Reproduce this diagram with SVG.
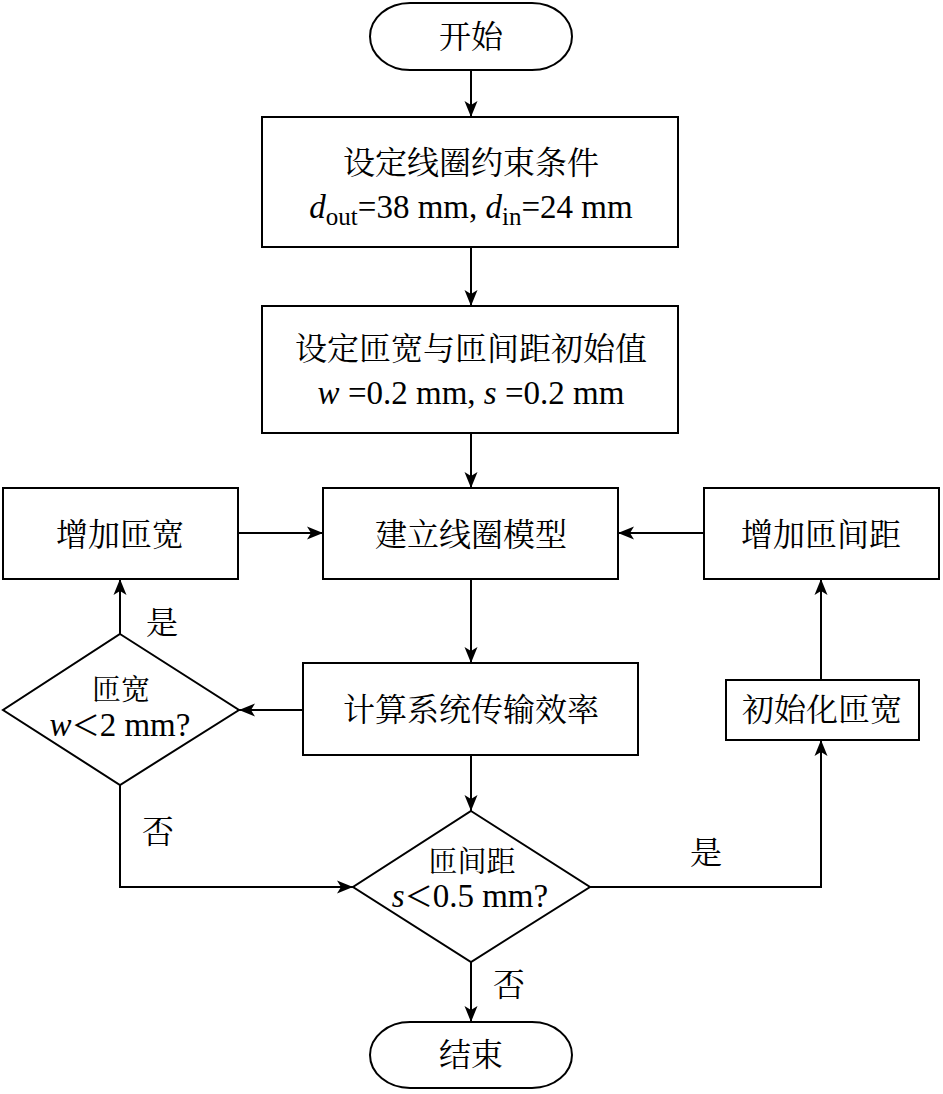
<svg xmlns="http://www.w3.org/2000/svg" width="943" height="1094" viewBox="0 0 943 1094">
<style>
.s{fill:#fff;stroke:#000;stroke-width:2}
.c{fill:none;stroke:#000;stroke-width:2}
.t{font-family:"Liberation Serif","Noto Serif CJK SC","Noto Sans CJK SC",serif;font-size:32px;fill:#000;text-anchor:middle}
.d{font-size:29px}
.m{font-size:33px}
.i{font-style:italic}
.lt{font-family:"Noto Sans CJK SC",sans-serif;font-size:28px}
</style>
<defs>
<marker id="a" markerUnits="userSpaceOnUse" markerWidth="18" markerHeight="14" refX="16" refY="7" orient="auto">
<path d="M0,0.5 L16,7 L0,13.5 L4,7 Z" fill="#000"/>
</marker>
</defs>
<rect width="943" height="1094" fill="#fff"/>
<g id="connectors">
<path class="c" d="M471,70 V117" marker-end="url(#a)"/>
<path class="c" d="M471,247 V306" marker-end="url(#a)"/>
<path class="c" d="M471,433 V488" marker-end="url(#a)"/>
<path class="c" d="M238,533 H323" marker-end="url(#a)"/>
<path class="c" d="M704,533 H618" marker-end="url(#a)"/>
<path class="c" d="M471,579 V663" marker-end="url(#a)"/>
<path class="c" d="M303,710 H239" marker-end="url(#a)"/>
<path class="c" d="M120,634 V579" marker-end="url(#a)"/>
<path class="c" d="M120,785 V887 H353" marker-end="url(#a)"/>
<path class="c" d="M471,755 V811" marker-end="url(#a)"/>
<path class="c" d="M590,887 H821 V740" marker-end="url(#a)"/>
<path class="c" d="M821,680 V579" marker-end="url(#a)"/>
<path class="c" d="M471,962 V1022" marker-end="url(#a)"/>
<text class="t" x="162" y="634">是</text>
<text class="t" x="158" y="843">否</text>
<text class="t" x="706" y="864">是</text>
<text class="t" x="509" y="996">否</text>
</g>
<g id="start">
<rect class="s" x="370" y="3" width="202" height="67" rx="40" ry="33.5"/>
<text class="t" x="471" y="48">开始</text>
</g>
<g id="constraints">
<rect class="s" x="262" y="117" width="416" height="130"/>
<text class="t" x="471" y="174">设定线圈约束条件</text>
<text class="t m" x="471" y="218"><tspan class="i">d</tspan><tspan font-size="25" dy="7">out</tspan><tspan dy="-7">=38 mm, </tspan><tspan class="i">d</tspan><tspan font-size="25" dy="7">in</tspan><tspan dy="-7">=24 mm</tspan></text>
</g>
<g id="initial">
<rect class="s" x="262" y="306" width="416" height="127"/>
<text class="t" x="471" y="360">设定匝宽与匝间距初始值</text>
<text class="t m" x="471" y="404"><tspan class="i">w</tspan> =0.2 mm, <tspan class="i">s</tspan> =0.2 mm</text>
</g>
<g id="model">
<rect class="s" x="323" y="488" width="295" height="91"/>
<text class="t" x="471" y="546">建立线圈模型</text>
</g>
<g id="incw">
<rect class="s" x="3" y="488" width="235" height="91"/>
<text class="t" x="120" y="546">增加匝宽</text>
</g>
<g id="incs">
<rect class="s" x="704" y="488" width="235" height="91"/>
<text class="t" x="821" y="546">增加匝间距</text>
</g>
<g id="calc">
<rect class="s" x="303" y="663" width="335" height="92"/>
<text class="t" x="471" y="721">计算系统传输效率</text>
</g>
<g id="initw">
<rect class="s" x="726" y="680" width="193" height="60"/>
<text class="t" x="822" y="721">初始化匝宽</text>
</g>
<g id="dw">
<polygon class="s" points="120,634 239,710 120,785 3,710"/>
<text class="t d" x="121" y="700">匝宽</text>
<text class="t m" x="120" y="736"><tspan class="i">w</tspan><tspan class="lt">＜</tspan>2 mm?</text>
</g>
<g id="ds">
<polygon class="s" points="471,811 590,887 471,962 353,887"/>
<text class="t d" x="472" y="872">匝间距</text>
<text class="t m" x="470" y="907"><tspan class="i">s</tspan><tspan class="lt">＜</tspan>0.5 mm?</text>
</g>
<g id="end">
<rect class="s" x="370" y="1022" width="202" height="66" rx="40" ry="33"/>
<text class="t" x="471" y="1066">结束</text>
</g>
</svg>
